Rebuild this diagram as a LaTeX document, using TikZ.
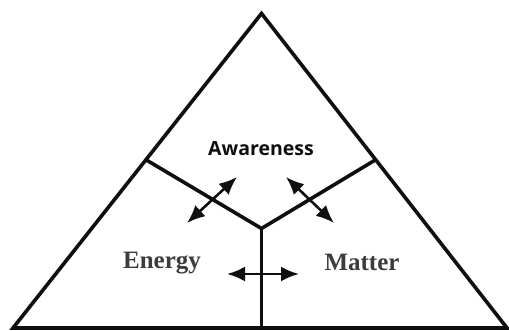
\documentclass[tikz,border=0pt]{standalone}
\usepackage{fontspec}
\newfontfamily\awfont{Open Sans}
\newfontfamily\emfont{Liberation Serif}
\usepackage{tikz}
\usetikzlibrary{arrows.meta,calc}
\definecolor{ink}{RGB}{15,15,15}
\definecolor{greyink}{RGB}{60,60,60}
\tikzset{
  edge/.style={draw=ink,line width=3.6pt},
  dbl/.style={{Latex[length=18pt,width=15pt]}-{Latex[length=18pt,width=15pt]},line width=2.6pt,draw=ink},
  facet/.style={font=\emfont\bfseries\fontsize{25}{25}\selectfont,text=greyink,inner sep=0pt,anchor=base},
  apex/.style={font=\awfont\bfseries\fontsize{19.5}{19.5}\selectfont,text=ink,inner sep=0pt,anchor=base},
}

\begin{document}
\begin{tikzpicture}[x=1pt,y=-1pt]
  \useasboundingbox (0,0) rectangle (509,331);
  % outer triangle
  \coordinate (top) at (261.5,13.5);
  \coordinate (bl) at (13,328);
  \coordinate (br) at (507,328);
  \coordinate (ctr) at (261.5,228.5);
  \coordinate (bmid) at (261.5,328);
  \coordinate (lsplit) at ($(bl)!0.535!(top)$);
  \coordinate (rsplit) at ($(br)!0.535!(top)$);
  \draw[edge] (top) -- (bl) -- (br) -- cycle;
  \draw[edge] (lsplit) -- (ctr) -- (rsplit);
  \draw[edge] (ctr) -- (bmid);
  % labels
  \node[apex] (aware) at (261,156) {Awareness};
  \node[facet] (energy) at (162,268.5) {Energy};
  \node[facet] (matter) at (362,270.5) {Matter};
  % exchanges
  \coordinate (el) at (187,223);
  \coordinate (eu) at (237,177);
  \coordinate (mu) at (286,177);
  \coordinate (ml) at (334,223);
  \coordinate (hl) at (227,274);
  \coordinate (hr) at (299,274);
  \draw[dbl] (el) -- (eu);
  \draw[dbl] (mu) -- (ml);
  \draw[dbl] (hl) -- (hr);
\end{tikzpicture}
\end{document}
